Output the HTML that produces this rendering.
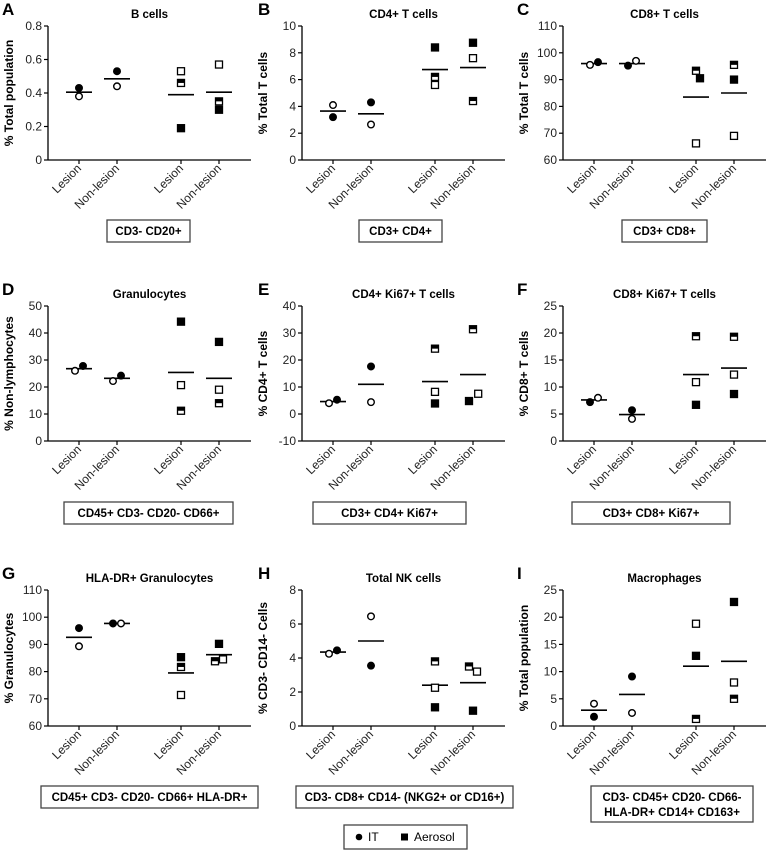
<!DOCTYPE html>
<html><head><meta charset="utf-8"><style>
body{margin:0;background:#fff;width:772px;height:852px;overflow:hidden;font-family:"Liberation Sans",Arial,sans-serif}
svg text{font-family:"Liberation Sans",Arial,sans-serif}
</style></head><body>
<svg id="fig" width="772" height="852" viewBox="0 0 772 852"></svg>
<script>
// ---- data (one small set of arrays per panel) ----
const categories = ["Lesion","Non-lesion","Lesion","Non-lesion"];
// point arrays: [categoryIndex, value, markerType, jitter]  types: fc=filled circle, oc=open circle, fs=filled square, os=open square, hs=half square
const pointsA = [[0,0.43,"fc",0],[0,0.38,"oc",0],[1,0.53,"fc",0],[1,0.44,"oc",0],[2,0.53,"os",0],[2,0.46,"hs",0],[2,0.19,"fs",0],[3,0.57,"os",0],[3,0.35,"hs",0],[3,0.30,"fs",0]];
const meansA = [0.405,0.485,0.39,0.405];
const ticksA = [0,0.2,0.4,0.6,0.8];
const pointsB = [[0,4.1,"oc",0],[0,3.2,"fc",0],[1,4.3,"fc",0],[1,2.65,"oc",0],[2,8.4,"fs",0],[2,6.2,"hs",0],[2,5.6,"os",0],[3,8.75,"fs",0],[3,7.6,"os",0],[3,4.4,"hs",0]];
const meansB = [3.65,3.45,6.75,6.9];
const ticksB = [0,2,4,6,8,10];
const pointsC = [[0,95.5,"oc",-1],[0,96.5,"fc",1],[1,95.2,"fc",-1],[1,97,"oc",1],[2,93.3,"hs",0],[2,90.5,"fs",1],[2,66.2,"os",0],[3,95.5,"hs",0],[3,90,"fs",0],[3,69,"os",0]];
const meansC = [96,96,83.5,85];
const ticksC = [60,70,80,90,100,110];
const pointsD = [[0,26,"oc",-1],[0,27.8,"fc",1],[1,22.2,"oc",-1],[1,24.2,"fc",1],[2,44.2,"fs",0],[2,20.7,"os",0],[2,11.2,"hs",0],[3,36.7,"fs",0],[3,19,"os",0],[3,14,"hs",0]];
const meansD = [26.8,23.2,25.4,23.2];
const ticksD = [0,10,20,30,40,50];
const pointsE = [[0,4,"oc",-1],[0,5.3,"fc",1],[1,17.6,"fc",0],[1,4.4,"oc",0],[2,24.2,"hs",0],[2,8.2,"os",0],[2,3.9,"fs",0],[3,31.4,"hs",0],[3,7.5,"os",1.3],[3,4.8,"fs",-1]];
const meansE = [4.6,11,12,14.6];
const ticksE = [-10,0,10,20,30,40];
const pointsF = [[0,7.2,"fc",-1],[0,8,"oc",1],[1,5.7,"fc",0],[1,4.1,"oc",0],[2,19.4,"hs",0],[2,10.9,"os",0],[2,6.7,"fs",0],[3,19.3,"hs",0],[3,12.3,"os",0],[3,8.7,"fs",0]];
const meansF = [7.6,4.9,12.3,13.5];
const ticksF = [0,5,10,15,20,25];
const pointsG = [[0,96,"fc",0],[0,89.3,"oc",0],[1,97.7,"fc",-1],[1,97.7,"oc",1],[2,85.3,"fs",0],[2,81.7,"hs",0],[2,71.4,"os",0],[3,90.2,"fs",0],[3,83.8,"hs",-1],[3,84.5,"os",1]];
const meansG = [92.6,97.7,79.5,86.2];
const ticksG = [60,70,80,90,100,110];
const pointsH = [[0,4.25,"oc",-1],[0,4.45,"fc",1],[1,6.45,"oc",0],[1,3.55,"fc",0],[2,3.8,"hs",0],[2,2.25,"os",0],[2,1.1,"fs",0],[3,3.5,"hs",-1],[3,3.2,"os",1],[3,0.9,"fs",0]];
const meansH = [4.35,5,2.4,2.55];
const ticksH = [0,2,4,6,8];
const pointsI = [[0,4.1,"oc",0],[0,1.7,"fc",0],[1,9.1,"fc",0],[1,2.4,"oc",0],[2,18.8,"os",0],[2,12.9,"fs",0],[2,1.3,"hs",0],[3,22.8,"fs",0],[3,8,"os",0],[3,5,"hs",0]];
const meansI = [2.9,5.8,11,11.9];
const ticksI = [0,5,10,15,20,25];

const panels = [
 {letter:"A",title:"B cells",ytitle:"% Total population",pts:pointsA,means:meansA,ticks:ticksA,box:["CD3- CD20+"],col:0,row:0,bx:[107,190]},
 {letter:"B",title:"CD4+ T cells",ytitle:"% Total T cells",pts:pointsB,means:meansB,ticks:ticksB,box:["CD3+ CD4+"],col:1,row:0,bx:[359,442]},
 {letter:"C",title:"CD8+ T cells",ytitle:"% Total T cells",pts:pointsC,means:meansC,ticks:ticksC,box:["CD3+ CD8+"],col:2,row:0,bx:[622,707]},
 {letter:"D",title:"Granulocytes",ytitle:"% Non-lymphocytes",pts:pointsD,means:meansD,ticks:ticksD,box:["CD45+ CD3- CD20- CD66+"],col:0,row:1,bx:[64,233]},
 {letter:"E",title:"CD4+ Ki67+ T cells",ytitle:"% CD4+ T cells",pts:pointsE,means:meansE,ticks:ticksE,box:["CD3+ CD4+ Ki67+"],col:1,row:1,bx:[313,466]},
 {letter:"F",title:"CD8+ Ki67+ T cells",ytitle:"% CD8+ T cells",pts:pointsF,means:meansF,ticks:ticksF,box:["CD3+ CD8+ Ki67+"],col:2,row:1,bx:[572,730]},
 {letter:"G",title:"HLA-DR+ Granulocytes",ytitle:"% Granulocytes",pts:pointsG,means:meansG,ticks:ticksG,box:["CD45+ CD3- CD20- CD66+ HLA-DR+"],col:0,row:2,bx:[41,258]},
 {letter:"H",title:"Total NK cells",ytitle:"% CD3- CD14- Cells",pts:pointsH,means:meansH,ticks:ticksH,box:["CD3- CD8+ CD14- (NKG2+ or CD16+)"],col:1,row:2,bx:[296,513]},
 {letter:"I",title:"Macrophages",ytitle:"% Total population",pts:pointsI,means:meansI,ticks:ticksI,box:["CD3- CD45+ CD20- CD66-","HLA-DR+ CD14+ CD163+"],col:2,row:2,bx:[591,753]}
];

const NS="http://www.w3.org/2000/svg";
const svg=document.getElementById("fig");
function mk(tag,attrs,parent,text){const e=document.createElementNS(NS,tag);for(const k in attrs)e.setAttribute(k,attrs[k]);if(text!==undefined)e.textContent=text;(parent||svg).appendChild(e);return e;}

const colX=[48,302,563], colL=[2,258,517];
const rowTop=[26,306,590], rowBot=[160,441,726], rowBox=[220,502,786];
const catOff=[31,69,133,171];
const AXW=203;

panels.forEach(p=>{
  const g=mk("g",{});
  
  
  const x0=colX[p.col], top=rowTop[p.row], bot=rowBot[p.row];
  const tmin=p.ticks[0], tmax=p.ticks[p.ticks.length-1];
  const yS=v=>bot-(v-tmin)/(tmax-tmin)*(bot-top);
  const xS=i=>x0+catOff[i];
  const L=mk("text",{x:colL[p.col],y:top-11,"font-size":17,"font-weight":"bold"},g,p.letter);
  
  
  const T=mk("text",{x:x0+AXW/2,y:top-8,"font-size":11.5,"font-weight":"bold","text-anchor":"middle"},g,p.title);
  
  
  const ya=mk("line",{x1:x0,y1:top,x2:x0,y2:bot,stroke:"#000","stroke-width":1.3},g);
  
  
  const xa=mk("line",{x1:x0,y1:bot,x2:x0+AXW,y2:bot,stroke:"#000","stroke-width":1.3},g);
  
  
  p.ticks.forEach(t=>{
    const y=yS(t);
    mk("line",{x1:x0-4,y1:y,x2:x0,y2:y,stroke:"#000","stroke-width":1.2},g);
    const tl=mk("text",{x:x0-6,y:y+4,"font-size":12,"text-anchor":"end",fill:"#222"},g,String(t));
    
    
  });
  const yc=(top+bot)/2, yx=x0-35;
  const yt=mk("text",{x:yx,y:yc,"font-size":12,"font-weight":"bold","text-anchor":"middle",transform:`rotate(-90 ${yx} ${yc})`},g,p.ytitle);
  
  
  categories.forEach((c,i)=>{
    const cx=xS(i);
    mk("line",{x1:cx,y1:bot,x2:cx,y2:bot+4,stroke:"#000","stroke-width":1.2},g);
    const lx=cx+3, ly=bot+9;
    const cl=mk("text",{x:lx,y:ly,"font-size":12,"text-anchor":"end",fill:"#222",transform:`rotate(-45 ${lx} ${ly})`},g,c);
    
    
  });
  p.means.forEach((m,i)=>{
    const ml=mk("line",{x1:xS(i)-13,y1:yS(m),x2:xS(i)+13,y2:yS(m),stroke:"#000","stroke-width":1.6},g);
    
    
  });
  p.pts.forEach(pt=>{
    const cx=xS(pt[0])+pt[3]*4, cy=yS(pt[1]);
    let e;
    if(pt[2]==="fc"||pt[2]==="oc"){
      e=mk("circle",{cx:cx,cy:cy,r:3.3,fill:pt[2]==="fc"?"#000":"#fff",stroke:"#000","stroke-width":1.4},g);
    } else {
      e=mk("g",{},g);
      mk("rect",{x:cx-3.5,y:cy-3.5,width:7,height:7,fill:pt[2]==="fs"?"#000":"#fff",stroke:"#000","stroke-width":1.3},e);
      if(pt[2]==="hs") mk("rect",{x:cx-3.5,y:cy-3.5,width:7,height:3.5,fill:"#000"},e);
    }
    
    
  });
  const bx0=p.bx[0], bx1=p.bx[1], by=rowBox[p.row], bh=p.box.length>1?36:22;
  const bg=mk("g",{},g);
  
  
  mk("rect",{x:bx0,y:by,width:bx1-bx0,height:bh,fill:"#fff",stroke:"#444","stroke-width":1.3},bg);
  p.box.forEach((s,k)=>mk("text",{x:(bx0+bx1)/2,y:by+15+k*15,"font-size":11.5,"font-weight":"bold","text-anchor":"middle"},bg,s));
});

// legend
const lg=mk("g",{});


mk("rect",{x:344,y:825,width:123,height:24,fill:"#fff",stroke:"#444","stroke-width":1.3},lg);
const l1=mk("g",{},lg);


mk("circle",{cx:359,cy:837,r:3.3,fill:"#000"},l1);
mk("text",{x:368,y:841,"font-size":12},l1,"IT");
const l2=mk("g",{},lg);


mk("rect",{x:401,y:833.5,width:7,height:7,fill:"#000"},l2);
mk("text",{x:414,y:841,"font-size":12},l2,"Aerosol");
</script>
</body></html>
